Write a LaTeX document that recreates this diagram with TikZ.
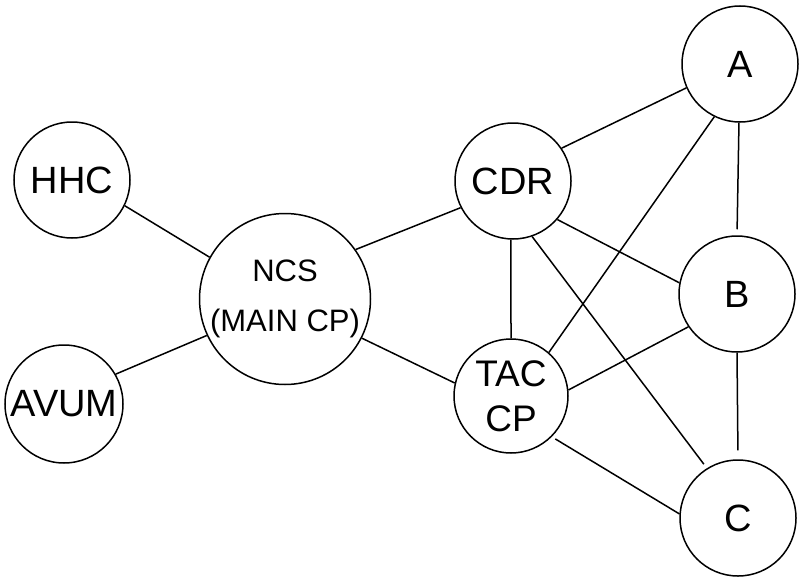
\documentclass[tikz,border=0pt]{standalone}
\usepackage{fontspec}
\setmainfont{Liberation Sans}
\begin{document}
\begin{tikzpicture}[x=1pt,y=-1pt,
  unit/.style={circle,draw,line width=1.5pt,inner sep=0pt,minimum size=#1,font=\fontsize{38}{44}\selectfont},
  link/.style={line width=1.5pt}]
\useasboundingbox (0,0) rectangle (800,578);
\node[unit=116] (hhc) at (72,180) {HHC};
\node[unit=118] (avum) at (64,404) {AVUM};
\node[unit=171,align=center,font=\fontsize{31}{50}\selectfont] (ncs) at (285,299) {NCS\\(MAIN CP)};
\node[unit=116] (cdr) at (513,181) {CDR};
\node[unit=114,align=center,font=\fontsize{37}{45}\selectfont] (tac) at (511,396) {TAC\\CP};
\node[unit=116] (a) at (740,64) {A};
\node[unit=116] (b) at (737,294) {B};
\node[unit=116] (c) at (738,518) {C};
\draw[link] (hhc.-26) -- (ncs.151);
\draw[link] (avum.30) -- (ncs.205);
\draw[link] (ncs.35) -- (cdr.207);
\draw[link] (ncs.-27) -- (tac.167);
\draw[link] (cdr.34) -- (a.204);
\draw[link] (tac.49) -- (a.244);
\draw[link,shorten >=6pt] (a.-91) -- (b.90);
\draw[link] (cdr.-41) -- (b.169);
\draw[link] (cdr.-92) -- (tac.90);
\draw[link,shorten >=5pt] (cdr.-71) -- (c.122);
\draw[link] (tac.6) -- (b.214);
\draw[link,shorten >=9pt] (b.-90) -- (c.90);
\draw[link,shorten <=4pt] (tac.-45) -- (c.176);
\end{tikzpicture}
\end{document}
